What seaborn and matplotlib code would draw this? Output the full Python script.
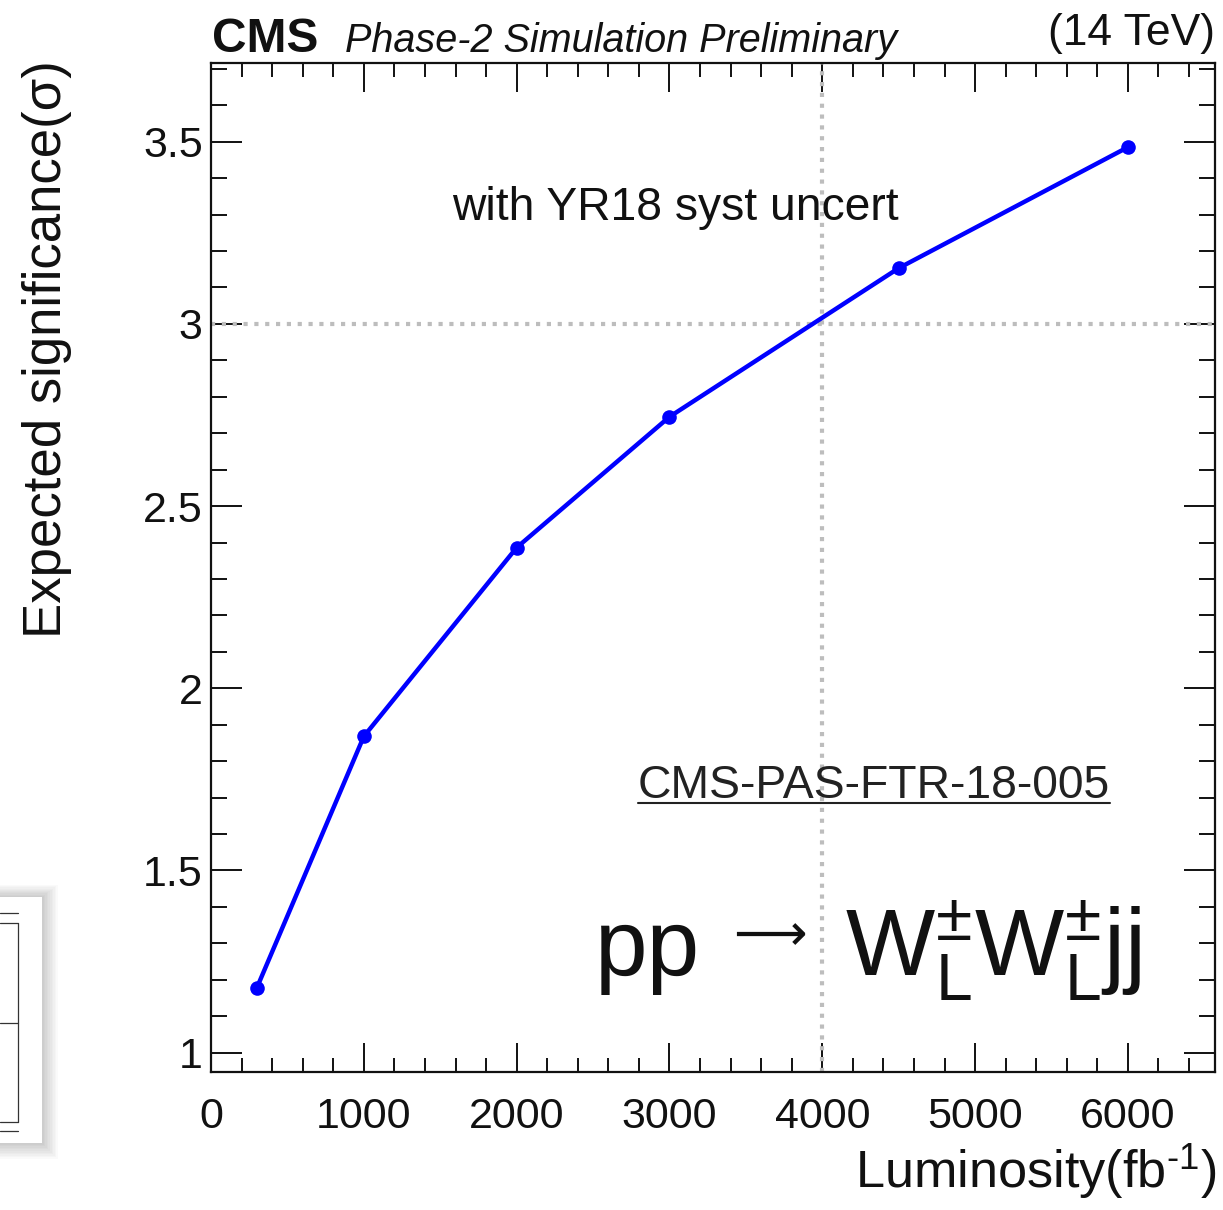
import numpy as np
import pandas as pd
import matplotlib
matplotlib.use("Agg")
import matplotlib.pyplot as plt
from matplotlib.patches import Rectangle
from matplotlib.lines import Line2D
from matplotlib.ticker import MultipleLocator
import seaborn as sns

# Projected significance of same-sign W_L W_L scattering vs integrated luminosity
luminosity = [300, 1000, 2000, 3000, 4500, 6000]          # fb^-1
significance = [1.178, 1.868, 2.386, 2.745, 3.153, 3.485]  # sigma

x_ticks = [0, 1000, 2000, 3000, 4000, 5000, 6000]
y_ticks = [1.0, 1.5, 2.0, 2.5, 3.0, 3.5]
x_ref = 4000
y_ref = 3.0

W, H = 1223, 1210

sns.set_theme(style="ticks")
plt.rcParams["font.family"] = ["Liberation Sans", "DejaVu Sans"]
plt.rcParams["mathtext.fontset"] = "custom"
plt.rcParams["mathtext.rm"] = "Liberation Sans"
plt.rcParams["mathtext.it"] = "Liberation Sans:italic"
plt.rcParams["mathtext.bf"] = "Liberation Sans:bold"


def fx(px):
    return px / W


def fy(py):
    return 1 - py / H


fig = plt.figure(figsize=(W / 100, H / 100), dpi=100)
ax = fig.add_axes([fx(211), fy(1072), fx(1215) - fx(211), fy(63) - fy(1072)])

df = pd.DataFrame({"lumi": luminosity, "signif": significance})

# reference lines at 4000 fb^-1 and 3 sigma
ax.axvline(x_ref, color="#bdbdbd", lw=3, linestyle=(0, (1, 1.6)), zorder=1)
ax.axhline(y_ref, color="#bdbdbd", lw=3, linestyle=(0, (1, 1.6)), zorder=1)

sns.lineplot(data=df, x="lumi", y="signif", ax=ax, color="#0000ff", lw=3.2,
             marker="o", markersize=10.5, markeredgewidth=0, zorder=3)

ax.set_xlim(0, 6570)
ax.set_ylim(0.947, 3.716)
ax.set_xticks(x_ticks)
ax.set_xticklabels([str(v) for v in x_ticks])
ax.set_yticks(y_ticks)
ax.set_yticklabels(["1", "1.5", "2", "2.5", "3", "3.5"])
ax.xaxis.set_minor_locator(MultipleLocator(200))
ax.yaxis.set_minor_locator(MultipleLocator(0.1))
ax.tick_params(which="both", direction="in", top=True, right=True, width=1.4,
               color="#111111", labelsize=31, labelcolor="#111111")
ax.tick_params(axis="x", which="major", length=21, pad=18)
ax.tick_params(axis="x", which="minor", length=10)
ax.tick_params(axis="y", which="major", length=22, pad=6)
ax.tick_params(axis="y", which="minor", length=11.5)
for s in ax.spines.values():
    s.set_linewidth(1.6)
    s.set_color("#111111")
ax.set_xlabel("")
ax.set_ylabel("")

# axis titles
fig.text(fx(1216), fy(1172), r"Luminosity(fb$^{\text{-1}}$)", ha="right",
         va="center", fontsize=37.6, color="#111111")
fig.text(fx(47), fy(60), r"Expected significance(σ)", rotation=90, ha="center",
         va="top", fontsize=38, color="#111111")

# header
fig.text(fx(212), fy(52), "CMS", fontsize=34.5, fontweight="bold", ha="left",
         va="baseline", color="#111111")
fig.text(fx(345), fy(52), "Phase-2 Simulation Preliminary", fontsize=28.5,
         style="italic", ha="left", va="baseline", color="#111111")
fig.text(fx(1215), fy(45), "(14 TeV)", fontsize=32, ha="right", va="baseline",
         color="#111111")

# annotations inside the frame
fig.text(fx(452), fy(220), "with YR18 syst uncert", fontsize=33.3, ha="left",
         va="baseline", color="#111111")
fig.text(fx(638), fy(798), "CMS-PAS-FTR-18-005", fontsize=33.4, ha="left",
         va="baseline", color="#222222")
fig.add_artist(Line2D([fx(638), fx(1110)], [fy(803), fy(803)], color="#222222",
                      lw=1.5, transform=fig.transFigure))

# process label: pp -> W_L W_L jj
fig.text(fx(595), fy(975), "pp", fontsize=68, ha="left", va="baseline",
         color="#111111")
fig.text(fx(733), fy(936), "\u27f6", fontsize=37, ha="left", va="center",
         color="#111111", family=["DejaVu Sans"])
fig.text(fx(845), fy(975),
         r"$\mathrm{W}^{\pm}_{\mathrm{L}}\mathrm{W}^{\pm}_{\mathrm{L}}\mathrm{jj}$",
         fontsize=68, ha="left", va="baseline", color="#111111")

# small panel peeking in at the lower left
for i in range(10, 0, -1):
    fig.add_artist(Rectangle((fx(0), fy(1143 + i * 1.6)), fx(42 + i * 1.6),
                             fy(897 - i * 1.2) - fy(1143 + i * 1.6),
                             transform=fig.transFigure, facecolor="black",
                             edgecolor="none", alpha=0.02, zorder=0))
fig.add_artist(Rectangle((fx(0), fy(1143)), fx(42), fy(897) - fy(1143),
                         transform=fig.transFigure, facecolor="white",
                         edgecolor="none", zorder=0.5))
for yy in (913, 923, 1023, 1122, 1131):
    fig.add_artist(Line2D([fx(0), fx(18)], [fy(yy), fy(yy)], color="#333333",
                          lw=0.9, transform=fig.transFigure))
fig.add_artist(Line2D([fx(18), fx(18)], [fy(923), fy(1122)], color="#333333",
                      lw=0.9, transform=fig.transFigure))

fig.savefig("out.png", dpi=100, facecolor="white")
